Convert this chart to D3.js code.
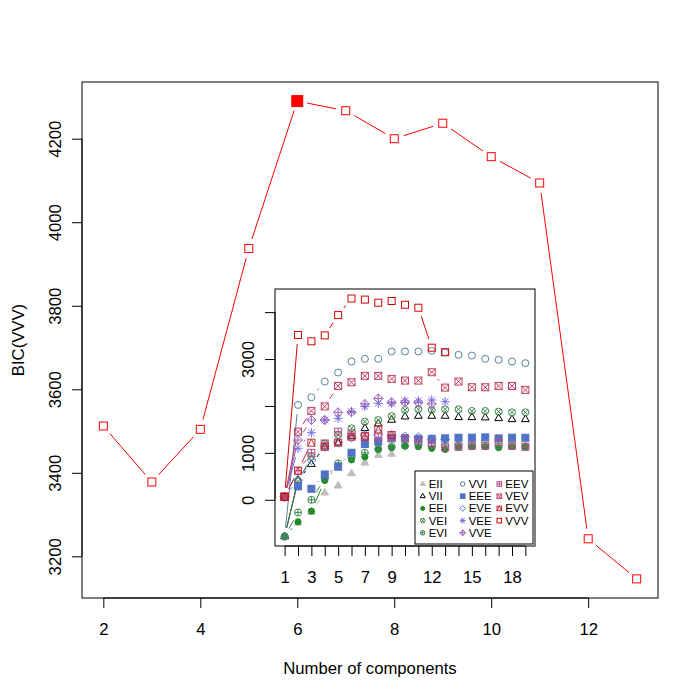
<!DOCTYPE html>
<html><head><meta charset="utf-8">
<script src="https://cdn.jsdelivr.net/npm/d3@7"></script>
<style>
body{margin:0;background:#fff}
text{font-family:"Liberation Sans",Arial,Helvetica,sans-serif;fill:#000}
</style>
</head><body>
<svg id="chart" width="700" height="700"></svg>
<script>
// ---------- data ----------
const mainComponents = [2,3,4,5,6,7,8,9,10,11,12,13];
const mainBIC = [3512,3378,3504,3937,4290,4267,4200,4237,4157,4094,3242,3146];
const mainXTicks = [2,4,6,8,10,12];
const mainYTicks = [3200,3400,3600,3800,4000,4200];

const insetComponents = [1,2,3,4,5,6,7,8,9,10,11,12,13,14,15,16,17,18,19];
const insetXLabels = [1,3,5,7,9,12,15,18];
const insetYTicks = [0,1000,2000,3000,4000];
const insetYLabels = [0,1000,3000];

const modelNames = ["EII","VII","EEI","VEI","EVI","VVI","EEE","EVE","VEE","VVE","EEV","VEV","EVV","VVV"];
const modelColors = ["#BEBEBE","#000000","#218B21","#41884F","#3F8A55","#58819C","#4F74C6","#5178EA","#716EE7","#9B60B8","#B2508B","#C03F60","#C82A36","#D40000"];
const modelSymbols = ["trifill","tri","dot","circx","circplus","circ","sqfill","diam","ast","diamplus","sqplus","sqx","sqtri","sq"];

const EII = [-782,-490,-260,150,300,560,790,950,975,null,null,null,null,null,null,null,null,null,null];
const VII = [-782,420,760,1131,1217,1350,1523,1620,1701,1772,1786,1786,1786,1758,1758,1751,1736,1715,1715];
const EEI = [-782,-470,-242,410,726,850,915,1074,1110,1145,1131,1096,1074,1120,1131,1131,1110,1131,1120];
const VEI = [-782,390,918,1200,1380,1523,1665,1701,1786,1914,1929,1914,1929,1929,1893,1893,1879,1865,1865];
const EVI = [-782,-270,0,450,776,900,1000,1080,1130,1150,1160,1140,1150,1160,1150,1150,1140,1150,1140];
const VVI = [-782,2022,2185,2520,2712,2947,3004,3004,3161,3161,3161,3175,3139,3090,3075,3004,2983,2947,2912];
const EEE = [64,285,235,540,705,1003,1188,1238,1309,1309,1300,1300,1310,1323,1323,1331,1309,1323,1323];
const EVE = [64,420,847,1131,1230,1330,1380,1400,1380,1345,1331,1288,1288,null,null,null,null,null,null];
const VEE = [64,1096,1430,1700,1736,1880,1986,2057,2057,2107,2107,2128,2092,null,null,null,null,null,null];
const VVE = [64,1274,1701,1701,1865,1865,2043,2160,2080,2075,2071,2043,null,null,null,null,null,null,null];
const EEV = [64,619,1000,1200,1452,1416,1360,1330,1320,1309,1259,1202,1117,1131,1153,1153,1238,1153,1131];
const VEV = [64,1452,1895,1990,2427,2505,2641,2641,2577,2541,2541,2719,2391,2520,2399,2399,2427,2427,2342];
const EVV = [64,619,1217,1131,1217,1345,1345,1501,1380,null,null,null,null,null,null,null,null,null,null];
const VVV = [64,3512,3378,3504,3937,4290,4267,4200,4237,4157,4094,3242,3146,null,null,null,null,null,null];
const modelBIC = [EII,VII,EEI,VEI,EVI,VVI,EEE,EVE,VEE,VVE,EEV,VEV,EVV,VVV];

// ---------- helpers ----------
const svg = d3.select("#chart");
const FONT = 16.7;

function ext(arr){
  const v = arr.filter(d => d !== null);
  const lo = d3.min(v), hi = d3.max(v), e = (hi - lo) * 0.04;
  return [lo - e, hi + e];
}

function drawSym(g, type, cx, cy, h, col){
  const s = g.append("g").attr("transform", `translate(${cx},${cy})`)
    .attr("stroke", col).attr("fill", "none").attr("stroke-width", 1);
  const line = (x1,y1,x2,y2) => s.append("line").attr("x1",x1).attr("y1",y1).attr("x2",x2).attr("y2",y2);
  const sq = (fill) => s.append("rect").attr("x",-h).attr("y",-h).attr("width",2*h).attr("height",2*h)
      .attr("fill", fill ? col : "none");
  const tri = (fill) => s.append("path").attr("d",
      `M0,${-1.25*h}L${1.1*h},${0.65*h}L${-1.1*h},${0.65*h}Z`).attr("fill", fill ? col : "none");
  const dm = 1.3*h;
  switch(type){
    case "sq": sq(false); break;
    case "sqfill": sq(true); break;
    case "tri": tri(false); break;
    case "trifill": tri(true); break;
    case "circ": s.append("circle").attr("r",h); break;
    case "dot": s.append("circle").attr("r",0.88*h).attr("fill",col); break;
    case "circx": s.append("circle").attr("r",h);
      line(-0.72*h,-0.72*h,0.72*h,0.72*h); line(-0.72*h,0.72*h,0.72*h,-0.72*h); break;
    case "circplus": s.append("circle").attr("r",h);
      line(-h,0,h,0); line(0,-h,0,h); break;
    case "diam": s.append("path").attr("d",`M0,${-dm}L${dm},0L0,${dm}L${-dm},0Z`); break;
    case "diamplus": s.append("path").attr("d",`M0,${-dm}L${dm},0L0,${dm}L${-dm},0Z`);
      line(-dm,0,dm,0); line(0,-dm,0,dm); break;
    case "ast": line(-1.3*h,0,1.3*h,0); line(0,-1.3*h,0,1.3*h);
      line(-0.95*h,-0.95*h,0.95*h,0.95*h); line(-0.95*h,0.95*h,0.95*h,-0.95*h); break;
    case "sqplus": sq(false); line(-h,0,h,0); line(0,-h,0,h); break;
    case "sqx": sq(false); line(-h,-h,h,h); line(-h,h,h,-h); break;
    case "sqtri": sq(false); s.append("path").attr("d",`M${-h},${h}L0,${-h}L${h},${h}`); break;
  }
}

// R type "b": segments between points, shortened by a gap at both ends
function gapLines(g, pts, gap, col){
  for(let i = 0; i < pts.length - 1; i++){
    const a = pts[i], b = pts[i+1];
    if(!a || !b) continue;
    const dx = b[0]-a[0], dy = b[1]-a[1], L = Math.hypot(dx,dy);
    if(L <= 2*gap) continue;
    const ux = dx/L, uy = dy/L;
    g.append("line")
      .attr("x1", a[0]+ux*gap).attr("y1", a[1]+uy*gap)
      .attr("x2", b[0]-ux*gap).attr("y2", b[1]-uy*gap)
      .attr("stroke", col).attr("stroke-width", 1);
  }
}

function styleAxisText(sel, size){
  sel.selectAll("text").attr("font-size", size).attr("fill","#000")
    .attr("font-family",'"Liberation Sans",Arial,Helvetica,sans-serif');
}

// ---------- main plot ----------
const M = {l:82, r:658, t:82, b:598};
const x = d3.scaleLinear().domain(ext(mainComponents)).range([M.l, M.r]);
const y = d3.scaleLinear().domain(ext(mainBIC)).range([M.b, M.t]);

const gMain = svg.append("g");
gMain.append("rect").attr("x",M.l).attr("y",M.t).attr("width",M.r-M.l).attr("height",M.b-M.t)
  .attr("fill","none").attr("stroke","#000").attr("stroke-width",1);

// x axis
const gx = gMain.append("g").attr("transform",`translate(0,${M.b})`)
  .call(d3.axisBottom(x).tickValues(mainXTicks).tickSize(10).tickSizeOuter(0).tickFormat(d3.format("d")));
gx.select(".domain").remove();
gx.append("line").attr("x1",x(mainXTicks[0])).attr("x2",x(mainXTicks[mainXTicks.length-1]))
  .attr("y1",0).attr("y2",0).attr("stroke","#000");
gx.selectAll(".tick line").attr("stroke","#000");
gx.selectAll(".tick text").attr("y",31).attr("dy","0.35em");
styleAxisText(gx, FONT);

// y axis
const gy = gMain.append("g").attr("transform",`translate(${M.l},0)`)
  .call(d3.axisLeft(y).tickValues(mainYTicks).tickSize(10).tickSizeOuter(0).tickFormat(d3.format("d")));
gy.select(".domain").remove();
gy.append("line").attr("y1",y(mainYTicks[0])).attr("y2",y(mainYTicks[mainYTicks.length-1]))
  .attr("x1",0).attr("x2",0).attr("stroke","#000");
gy.selectAll(".tick line").attr("stroke","#000");
gy.selectAll(".tick text").attr("x",null).attr("dy","0.35em")
  .attr("transform","translate(-27,0) rotate(-90)").attr("text-anchor","middle");
styleAxisText(gy, FONT);

gMain.append("text").attr("x",(M.l+M.r)/2).attr("y",668).attr("dy","0.35em")
  .attr("text-anchor","middle").attr("font-size",FONT).text("Number of components");
gMain.append("text").attr("transform",`translate(18,${(M.t+M.b)/2}) rotate(-90)`).attr("dy","0.35em")
  .attr("text-anchor","middle").attr("font-size",FONT).text("BIC(VVV)");

const mainPts = mainComponents.map((c,i) => [x(c), y(mainBIC[i])]);
gapLines(gMain, mainPts, 10, "#FF0000");
const maxIdx = d3.maxIndex(mainBIC);
mainPts.forEach((p,i) => {
  if(i === maxIdx) drawSym(gMain, "sqfill", p[0], p[1], 5.5, "#FF0000");
  else drawSym(gMain, "sq", p[0], p[1], 4, "#FF0000");
});

// ---------- inset ----------
const I = {l:275, r:535, t:289, b:546};
const allInset = modelBIC.flat();
const xi = d3.scaleLinear().domain(ext(insetComponents)).range([I.l, I.r]);
const yi = d3.scaleLinear().domain(ext(allInset)).range([I.b, I.t]);

const gIn = svg.append("g");
gIn.append("rect").attr("x",I.l).attr("y",I.t).attr("width",I.r-I.l).attr("height",I.b-I.t)
  .attr("fill","#fff").attr("stroke","#000").attr("stroke-width",1);

const gxi = gIn.append("g").attr("transform",`translate(0,${I.b})`)
  .call(d3.axisBottom(xi).tickValues(insetComponents).tickSize(10).tickSizeOuter(0)
    .tickFormat(d => insetXLabels.includes(d) ? String(d) : ""));
gxi.select(".domain").remove();
gxi.append("line").attr("x1",xi(insetComponents[0])).attr("x2",xi(insetComponents[insetComponents.length-1]))
  .attr("y1",0).attr("y2",0).attr("stroke","#000");
gxi.selectAll(".tick line").attr("stroke","#000");
gxi.selectAll(".tick text").attr("y",31).attr("dy","0.35em");
styleAxisText(gxi, FONT);

const gyi = gIn.append("g").attr("transform",`translate(${I.l},0)`)
  .call(d3.axisLeft(yi).tickValues(insetYTicks).tickSize(10).tickSizeOuter(0)
    .tickFormat(d => insetYLabels.includes(d) ? String(d) : ""));
gyi.select(".domain").remove();
gyi.append("line").attr("y1",yi(insetYTicks[0])).attr("y2",yi(insetYTicks[insetYTicks.length-1]))
  .attr("x1",0).attr("x2",0).attr("stroke","#000");
gyi.selectAll(".tick line").attr("stroke","#000");
gyi.selectAll(".tick text").attr("x",null).attr("dy","0.35em")
  .attr("transform","translate(-27,0) rotate(-90)").attr("text-anchor","middle");
styleAxisText(gyi, FONT);

// series
modelBIC.forEach((vals, m) => {
  const pts = insetComponents.map((c,i) => vals[i] === null ? null : [xi(c), yi(vals[i])]);
  gapLines(gIn, pts, 9, modelColors[m]);
  pts.forEach(p => { if(p) drawSym(gIn, modelSymbols[m], p[0], p[1], 3.5, modelColors[m]); });
});

// legend
const L = {l:415, t:471, r:533, b:544};
const gL = gIn.append("g");
gL.append("rect").attr("x",L.l).attr("y",L.t).attr("width",L.r-L.l).attr("height",L.b-L.t)
  .attr("fill","#fff").attr("stroke","#000").attr("stroke-width",1);
const colSym = [422.7, 462.7, 499.3];
const rowY = [484, 496.2, 508.4, 520.6, 532.8];
modelNames.forEach((name, m) => {
  const col = Math.floor(m/5), row = m % 5;
  drawSym(gL, modelSymbols[m], colSym[col], rowY[row], 2.3, modelColors[m]);
  gL.append("text").attr("x", colSym[col]+6).attr("y", rowY[row]).attr("dy","0.35em")
    .attr("font-size", 11.5).text(name);
});
</script>
</body></html>
